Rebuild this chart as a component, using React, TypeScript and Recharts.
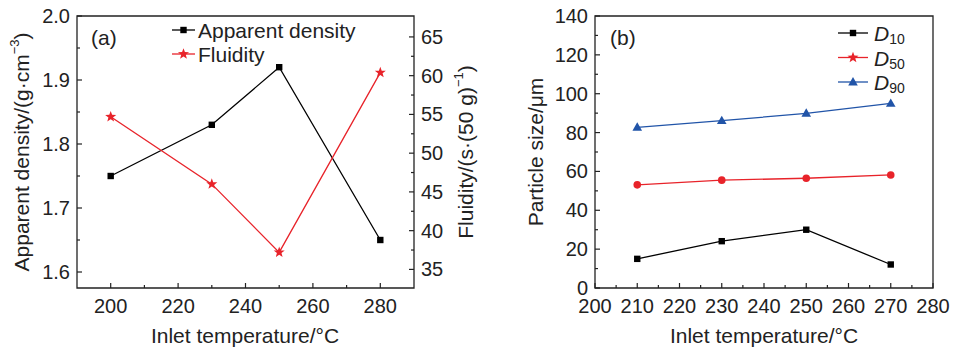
import React from 'react';
import { LineChart, Line, XAxis, YAxis, Legend, ReferenceArea, Customized } from 'recharts';

// ---------- data (a) ----------
const tempsA = [200, 230, 250, 280];
const density = [1.75, 1.83, 1.92, 1.65];
const fluidity = [54.7, 46.0, 37.2, 60.4];

// ---------- data (b) ----------
const tempsB = [210, 230, 250, 270];
const d10 = [15.0, 24.1, 30.0, 12.1];
const d50 = [53.1, 55.5, 56.5, 58.2];
const d90 = [82.7, 86.1, 89.9, 95.0];

// ---------- ticks ----------
const xTicksA = [200, 210, 220, 230, 240, 250, 260, 270, 280];
const yTicksAL = [1.6, 1.65, 1.7, 1.75, 1.8, 1.85, 1.9, 1.95, 2.0];
const yTicksAR = [35, 37.5, 40, 42.5, 45, 47.5, 50, 52.5, 55, 57.5, 60, 62.5, 65];
const xTicksB = [200, 205, 210, 215, 220, 225, 230, 235, 240, 245, 250, 255, 260, 265, 270, 275, 280];
const yTicksB = [0, 10, 20, 30, 40, 50, 60, 70, 80, 90, 100, 110, 120, 130, 140];

const dataA = tempsA.map((t, i) => ({ t, density: density[i], fluidity: fluidity[i] }));
const dataB = tempsB.map((t, i) => ({ t, d10: d10[i], d50: d50[i], d90: d90[i] }));

const FONT = '"Liberation Sans", Arial, Helvetica, sans-serif';
const TXT = '#222';
const RED = '#e8232a';
const BLUE = '#2154a8';
const FS = 20;
const TFS = 21;

const near = (v: number, step: number) => Math.abs(v / step - Math.round(v / step)) < 1e-6;

function makeTick(orient: 'bottom' | 'left' | 'right', step: number, fmt: (v: number) => string) {
  return (props: any) => {
    const { x, y, payload } = props;
    const v = payload.value as number;
    const major = near(v, step);
    const len = major ? 5 : 3;
    let line: any;
    let label: any = null;
    if (orient === 'bottom') {
      line = <line x1={x} x2={x} y1={y} y2={y - len} stroke={TXT} strokeWidth={1.2} />;
      if (major)
        label = (
          <text x={x} y={y + 18} textAnchor="middle" dominantBaseline="central" fontSize={FS} fill={TXT} fontFamily={FONT}>
            {fmt(v)}
          </text>
        );
    } else if (orient === 'left') {
      line = <line x1={x} x2={x + len} y1={y} y2={y} stroke={TXT} strokeWidth={1.2} />;
      if (major)
        label = (
          <text x={x - 7} y={y} textAnchor="end" dominantBaseline="central" fontSize={FS} fill={TXT} fontFamily={FONT}>
            {fmt(v)}
          </text>
        );
    } else {
      line = <line x1={x} x2={x - len} y1={y} y2={y} stroke={TXT} strokeWidth={1.2} />;
      if (major)
        label = (
          <text x={x + 7} y={y} textAnchor="start" dominantBaseline="central" fontSize={FS} fill={TXT} fontFamily={FONT}>
            {fmt(v)}
          </text>
        );
    }
    return (
      <g>
        {line}
        {label}
      </g>
    );
  };
}

function starPath(cx: number, cy: number, R: number, r: number) {
  let d = '';
  for (let i = 0; i < 10; i++) {
    const ang = -Math.PI / 2 + (i * Math.PI) / 5;
    const rad = i % 2 === 0 ? R : r;
    d += (i ? 'L' : 'M') + (cx + rad * Math.cos(ang)).toFixed(2) + ',' + (cy + rad * Math.sin(ang)).toFixed(2);
  }
  return d + 'Z';
}

function Marker({ kind, cx, cy, color }: { kind: string; cx: number; cy: number; color: string }) {
  if (kind === 'square') return <rect x={cx - 3.2} y={cy - 3.2} width={6.4} height={6.4} fill={color} />;
  if (kind === 'star') return <path d={starPath(cx, cy, 5.8, 2.4)} fill={color} />;
  if (kind === 'circle') return <circle cx={cx} cy={cy} r={3.8} fill={color} />;
  return <path d={`M${cx},${cy - 5} L${cx + 4.8},${cy + 3.4} L${cx - 4.8},${cy + 3.4} Z`} fill={color} />;
}

const dotOf = (kind: string, color: string) => (p: any) => (
  <Marker key={`${kind}-${p.index}`} kind={kind} cx={p.cx} cy={p.cy} color={color} />
);

// ---------- legends ----------
const legendKindA: Record<string, string> = { density: 'square', fluidity: 'star' };
const LegendA = (props: any) => {
  const payload = props.payload || [];
  return (
    <svg width={200} height={50} style={{ overflow: 'visible', display: 'block' }}>
      {payload.map((e: any, i: number) => {
        const cy = 12 + i * 24;
        return (
          <g key={i}>
            <line x1={2} x2={25} y1={cy} y2={cy} stroke={e.color} strokeWidth={1.3} />
            <Marker kind={legendKindA[e.dataKey]} cx={13.5} cy={cy} color={e.color} />
            <text x={28} y={cy} dominantBaseline="central" fontSize={21} fill={TXT} fontFamily={FONT}>
              {e.value}
            </text>
          </g>
        );
      })}
    </svg>
  );
};

const legendKindB: Record<string, string> = { d10: 'square', d50: 'star', d90: 'triangle' };
const subOf: Record<string, string> = { d10: '10', d50: '50', d90: '90' };
const LegendB = (props: any) => {
  const payload = props.payload || [];
  return (
    <svg width={100} height={80} style={{ overflow: 'visible', display: 'block' }}>
      {payload.map((e: any, i: number) => {
        const cy = 12 + i * 24.5;
        return (
          <g key={i}>
            <line x1={0} x2={30} y1={cy} y2={cy} stroke={e.color} strokeWidth={1.3} />
            <Marker kind={legendKindB[e.dataKey]} cx={15} cy={cy} color={e.color} />
            <text x={36} y={cy} dominantBaseline="central" fontSize={21} fill={TXT} fontFamily={FONT}>
              <tspan fontStyle="italic">D</tspan>
              <tspan fontSize={14} dy={6}>
                {subOf[e.dataKey]}
              </tspan>
            </text>
          </g>
        );
      })}
    </svg>
  );
};

// ---------- annotations ----------
const AnnotA = () => (
  <g fontFamily={FONT} fill={TXT}>
    <text x={91} y={37} fontSize={21} dominantBaseline="central">(a)</text>
    <text x={245} y={335} fontSize={TFS} textAnchor="middle" dominantBaseline="central">
      Inlet temperature/°C
    </text>
    <text
      x={21}
      y={152}
      fontSize={TFS}
      textAnchor="middle"
      dominantBaseline="central"
      transform="rotate(-90 21 152)"
    >
      Apparent density/(g·cm
      <tspan fontSize={13} dy={-7}>−3</tspan>
      <tspan dy={7}>)</tspan>
    </text>
    <text
      x={465}
      y={152}
      fontSize={TFS}
      textAnchor="middle"
      dominantBaseline="central"
      transform="rotate(-90 465 152)"
    >
      Fluidity/(s·(50 g)
      <tspan fontSize={13} dy={-7}>−1</tspan>
      <tspan dy={7}>)</tspan>
    </text>
  </g>
);

const AnnotB = () => (
  <g fontFamily={FONT} fill={TXT}>
    <text x={130} y={37} fontSize={21} dominantBaseline="central">(b)</text>
    <text x={284} y={335} fontSize={TFS} textAnchor="middle" dominantBaseline="central">
      Inlet temperature/°C
    </text>
    <text
      x={55}
      y={152}
      fontSize={TFS}
      textAnchor="middle"
      dominantBaseline="central"
      transform="rotate(-90 55 152)"
    >
      Particle size/μm
    </text>
  </g>
);

const fmt1 = (v: number) => v.toFixed(1);
const fmt0 = (v: number) => String(Math.round(v));

export default function App() {
  return (
    <div style={{ position: 'absolute', left: 0, top: 0, width: 953, height: 350, background: '#fff' }}>
      <div style={{ position: 'absolute', left: 0, top: 0 }}>
        <LineChart width={480} height={350} data={dataA} margin={{ top: 16, right: 65, bottom: 61, left: 76 }}>
          <XAxis
            dataKey="t"
            type="number"
            domain={[190, 290]}
            ticks={xTicksA}
            interval={0}
            height={1}
            tickSize={0}
            tickMargin={0}
            axisLine={false}
            tickLine={false}
            tick={makeTick('bottom', 20, fmt0)}
            allowDataOverflow
          />
          <YAxis
            yAxisId="L"
            type="number"
            domain={[1.575, 2.0]}
            ticks={yTicksAL}
            interval={0}
            width={1}
            tickSize={0}
            tickMargin={0}
            axisLine={false}
            tickLine={false}
            tick={makeTick('left', 0.1, fmt1)}
            allowDataOverflow
          />
          <YAxis
            yAxisId="R"
            orientation="right"
            type="number"
            domain={[32.6, 67.7]}
            ticks={yTicksAR}
            interval={0}
            width={1}
            tickSize={0}
            tickMargin={0}
            axisLine={false}
            tickLine={false}
            tick={makeTick('right', 5, fmt0)}
            allowDataOverflow
          />
          <ReferenceArea yAxisId="L" x1={190} x2={290} y1={1.575} y2={2.0} fill="none" stroke={TXT} strokeWidth={1.3} />
          <Line
            yAxisId="L"
            dataKey="density"
            name="Apparent density"
            stroke="#000"
            strokeWidth={1.3}
            dot={dotOf('square', '#000')}
            isAnimationActive={false}
          />
          <Line
            yAxisId="R"
            dataKey="fluidity"
            name="Fluidity"
            stroke={RED}
            strokeWidth={1.3}
            dot={dotOf('star', RED)}
            isAnimationActive={false}
          />
          <Legend
            layout="vertical"
            align="center"
            verticalAlign="middle"
            content={LegendA}
            wrapperStyle={{ position: 'absolute', left: 170, top: 18, width: 200, height: 50 }}
          />
          <Customized component={AnnotA} />
        </LineChart>
      </div>
      <div style={{ position: 'absolute', left: 480, top: 0 }}>
        <LineChart width={473} height={350} data={dataB} margin={{ top: 16, right: 20, bottom: 61, left: 114 }}>
          <XAxis
            dataKey="t"
            type="number"
            domain={[200, 280]}
            ticks={xTicksB}
            interval={0}
            height={1}
            tickSize={0}
            tickMargin={0}
            axisLine={false}
            tickLine={false}
            tick={makeTick('bottom', 10, fmt0)}
            allowDataOverflow
          />
          <YAxis
            type="number"
            domain={[0, 140]}
            ticks={yTicksB}
            interval={0}
            width={1}
            tickSize={0}
            tickMargin={0}
            axisLine={false}
            tickLine={false}
            tick={makeTick('left', 20, fmt0)}
            allowDataOverflow
          />
          <ReferenceArea x1={200} x2={280} y1={0} y2={140} fill="none" stroke={TXT} strokeWidth={1.3} />
          <Line dataKey="d10" name="D10" stroke="#000" strokeWidth={1.3} dot={dotOf('square', '#000')} isAnimationActive={false} />
          <Line dataKey="d50" name="D50" stroke={RED} strokeWidth={1.3} dot={dotOf('circle', RED)} isAnimationActive={false} />
          <Line dataKey="d90" name="D90" stroke={BLUE} strokeWidth={1.3} dot={dotOf('triangle', BLUE)} isAnimationActive={false} />
          <Legend
            layout="vertical"
            align="center"
            verticalAlign="middle"
            content={LegendB}
            wrapperStyle={{ position: 'absolute', left: 358, top: 21, width: 100, height: 80 }}
          />
          <Customized component={AnnotB} />
        </LineChart>
      </div>
    </div>
  );
}
